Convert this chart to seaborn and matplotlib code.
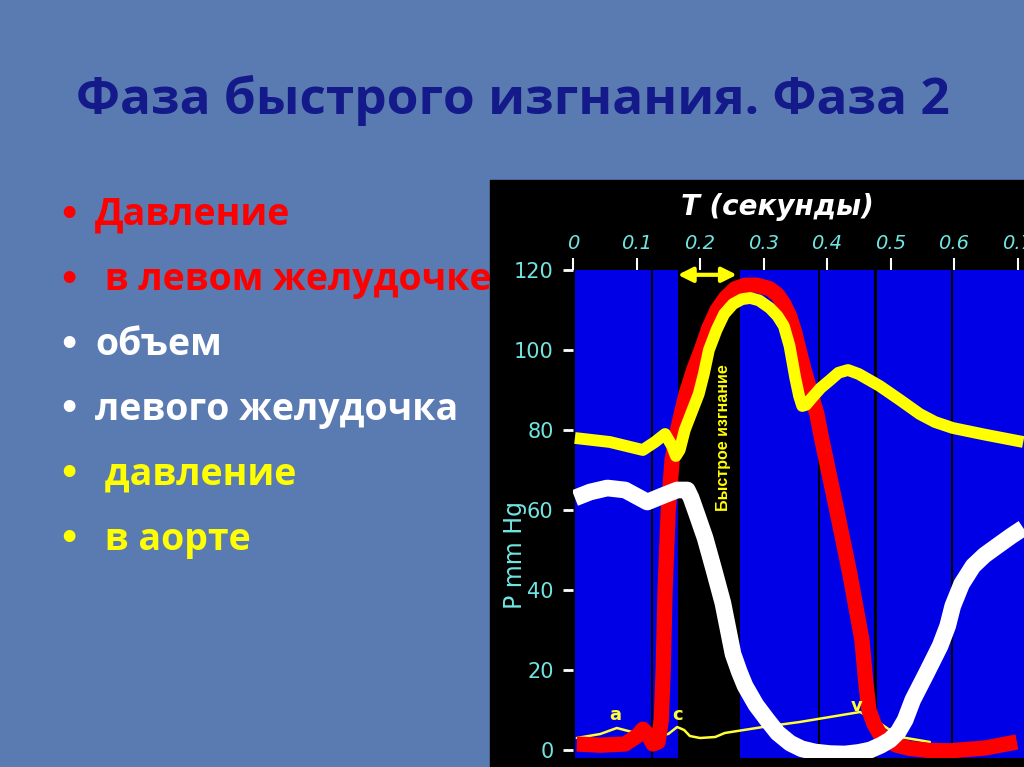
import numpy as np
import pandas as pd
import seaborn as sns
import matplotlib.pyplot as plt
from matplotlib.patches import Rectangle

# ─────────────────────────────────────────
# DATA
# ─────────────────────────────────────────
title = "Фаза быстрого изгнания. Фаза 2"
bullet_texts  = ["Давление", " в левом желудочке", "объем",
                 "левого желудочка", " давление", " в аорте"]
bullet_colors = ["#ff0000", "#ff0000", "#ffffff", "#ffffff", "#ffff00", "#ffff00"]

# time, s  /  давление в левом желудочке, mm Hg
t_lv = [0.006, 0.043, 0.082, 0.101, 0.110, 0.118, 0.126, 0.134, 0.139, 0.142,
        0.145, 0.150, 0.156, 0.166, 0.178, 0.190, 0.202, 0.214, 0.227, 0.240,
        0.255, 0.271, 0.290, 0.310, 0.322, 0.332, 0.341, 0.349, 0.356, 0.364,
        0.373, 0.384, 0.392, 0.414, 0.436, 0.455, 0.461, 0.466, 0.474, 0.483,
        0.496, 0.510, 0.530, 0.560, 0.594, 0.649, 0.699]
p_lv = [1.5, 1.2, 1.5, 3.5, 5.2, 3.8, 1.5, 2.0, 7.5, 20,
        40, 60, 72.5, 81, 89, 95, 100, 105.5, 110, 113,
        115.3, 116.2, 116.2, 115.3, 113.8, 111.5, 108.5, 104.5, 100, 95,
        90, 84, 77.5, 61, 44, 27.5, 17, 10, 6.5, 4,
        2.2, 1.2, 0.4, -0.1, -0.2, 0.5, 2]

# давление в аорте, mm Hg
t_aorta = [0.003, 0.058, 0.110, 0.129, 0.145, 0.156, 0.162, 0.168, 0.176, 0.187,
           0.198, 0.206, 0.214, 0.226, 0.238, 0.252, 0.266, 0.279, 0.293, 0.310,
           0.322, 0.332, 0.341, 0.350, 0.356, 0.361, 0.367, 0.376, 0.390, 0.405,
           0.418, 0.433, 0.450, 0.483, 0.515, 0.546, 0.570, 0.598, 0.650, 0.709]
p_aorta = [78, 77, 75, 77, 79, 76, 73.5, 75, 80, 84.5,
           89, 94, 100, 105, 109, 111.5, 112.7, 113, 112.4, 110.5,
           108.5, 106, 101, 93, 88.5, 86, 86.3, 88, 90.5, 92.5,
           94.3, 95, 94, 91, 87.5, 84, 82, 80.5, 78.8, 77]

# объем левого желудочка (same scale)
t_vol = [0.003, 0.027, 0.054, 0.082, 0.117, 0.140, 0.164, 0.180, 0.186, 0.196,
         0.208, 0.222, 0.236, 0.252, 0.262, 0.271, 0.288, 0.306, 0.322, 0.342,
         0.360, 0.381, 0.405, 0.428, 0.450, 0.468, 0.485, 0.499, 0.512, 0.523,
         0.535, 0.556, 0.578, 0.590, 0.598, 0.612, 0.630, 0.648, 0.668, 0.690,
         0.709]
vol_lv = [63, 64.5, 65.5, 65, 62, 63.5, 65, 65, 63, 58.5,
          53, 45, 36.75, 24, 19.5, 16, 11.3, 7.5, 4.3, 1.7,
          0.3, -0.5, -0.9, -1, -0.6, 0, 1.2, 2.5, 4.5, 7.5,
          12.5, 19, 26, 31, 36, 41.5, 46, 48.7, 51, 53.5,
          55.5]

# давление в предсердии (thin line with a, c, v waves)
t_atr = [0.006, 0.043, 0.069, 0.093, 0.121, 0.150, 0.164, 0.175, 0.184, 0.200,
         0.224, 0.239, 0.299, 0.357, 0.452, 0.476, 0.515, 0.562]
p_atr = [3, 4, 5.5, 4.5, 3.5, 4, 5.75, 5, 3.5, 3,
         3.25, 4.25, 5.75, 7, 9.5, 7.5, 3.25, 2]

wave_names = ["a", "c", "v"]
wave_t     = [0.066, 0.165, 0.447]
wave_p     = [8.75, 8.75, 11]

# blue phase bands (s)
band_start = [0.003, 0.1265, 0.263, 0.389, 0.478, 0.599]
band_end   = [0.1225, 0.165, 0.3855, 0.474, 0.595, 0.711]
rapid_start, rapid_end = 0.165, 0.263

x_ticks = [0, 0.1, 0.2, 0.3, 0.4, 0.5, 0.6, 0.7]
x_labels = ["0", "0.1", "0.2", "0.3", "0.4", "0.5", "0.6", "0.7"]
y_ticks = [0, 20, 40, 60, 80, 100, 120]

# ─────────────────────────────────────────
# STYLE
# ─────────────────────────────────────────
W, H = 1024, 767
BG    = "#5a7ab2"
CYAN  = "#72e4e0"
BLUE  = "#0000e6"
sns.set_theme(style="white")
plt.rcParams['font.family'] = ['DejaVu Sans']

fig = plt.figure(figsize=(W / 100, H / 100), dpi=100, facecolor=BG)

# title + bullets (under the black panel)
fig.text(513 / W, 1 - 100 / H, title, color="#141a8a", fontsize=37,
         fontweight="bold", family=["Open Sans", "DejaVu Sans"],
         ha="center", va="center", zorder=0.5)
bullet_y = [215, 280, 345, 410, 475, 540]
for txt, col, yy in zip(bullet_texts, bullet_colors, bullet_y):
    fig.text(58 / W, 1 - yy / H, "•", color=col, fontsize=24, fontweight="bold",
             ha="left", va="center", zorder=0.5)
    fig.text(95 / W, 1 - yy / H, txt, color=col, fontsize=27, fontweight="bold",
             family=["Open Sans", "DejaVu Sans"], ha="left", va="center",
             zorder=0.5)

# black panel of the picture
fig.add_artist(Rectangle((490 / W, 0), (W - 490) / W, (H - 180) / H,
                         transform=fig.transFigure, color="black", zorder=1))

# ─────────────────────────────────────────
# AXES
# ─────────────────────────────────────────
ax = fig.add_axes([573 / W, 9 / H, 451 / W, 488 / H], zorder=2)
ax.set_facecolor("black")
ax.set_xlim(0, 0.7102)
ax.set_ylim(-2, 120)
for s in ax.spines.values():
    s.set_visible(False)

for a, b in zip(band_start, band_end):
    ax.axvspan(a, b, color=BLUE, lw=0, zorder=0)

ax.xaxis.tick_top()
ax.set_xticks(x_ticks)
ax.set_xticklabels(x_labels, color=CYAN, fontsize=14, fontstyle="italic")
ax.set_yticks(y_ticks)
ax.set_yticklabels([str(v) for v in y_ticks], color=CYAN, fontsize=15)
ax.tick_params(axis="x", top=True, bottom=False, direction="out", length=9,
               width=1.5, color="white", pad=3)
ax.tick_params(axis="y", left=True, direction="out", length=7, width=2,
               color="white", pad=7)
ax.set_xlabel("")
ax.set_ylabel("")

# curves
sns.lineplot(x=t_atr, y=p_atr, ax=ax, color="#ffff33", linewidth=1.8,
             estimator=None, zorder=3)
sns.lineplot(x=t_lv, y=p_lv, ax=ax, color="#ff0000", linewidth=11,
             estimator=None, solid_joinstyle="round", solid_capstyle="butt",
             zorder=4)
sns.lineplot(x=t_aorta, y=p_aorta, ax=ax, color="#ffff00", linewidth=8.5,
             estimator=None, solid_joinstyle="round", solid_capstyle="butt",
             zorder=5)
sns.lineplot(x=t_vol, y=vol_lv, ax=ax, color="#ffffff", linewidth=12,
             estimator=None, solid_joinstyle="round", solid_capstyle="butt",
             zorder=6)

for name, tx, py in zip(wave_names, wave_t, wave_p):
    ax.text(tx, py, name, color="#ffff33", fontsize=13, fontweight="bold",
            ha="center", va="center", zorder=7)

# rapid ejection marker
ax.annotate("", xy=(rapid_start, 118.8), xytext=(rapid_end - 0.005, 118.8),
            arrowprops=dict(arrowstyle="<|-|>", color="#ffff00", lw=3,
                            mutation_scale=22, shrinkA=0, shrinkB=0),
            annotation_clip=False, zorder=8)
ax.text(0.237, 78, "Быстрое изгнание",
        rotation=90, color="#ffff00", fontsize=11.5, fontweight="bold",
        family=["Liberation Sans", "DejaVu Sans"], ha="center", va="center",
        zorder=8)

# axis labels
fig.text(777 / W, 1 - 207 / H, "T (секунды)", color="white", fontsize=20,
         fontweight="bold", fontstyle="italic", ha="center", va="center",
         zorder=3)
fig.text(515 / W, 1 - 555 / H, "P mm Hg", color=CYAN, fontsize=17,
         rotation=90, ha="center", va="center", zorder=3)

fig.savefig("out.png", dpi=100, facecolor=BG)
